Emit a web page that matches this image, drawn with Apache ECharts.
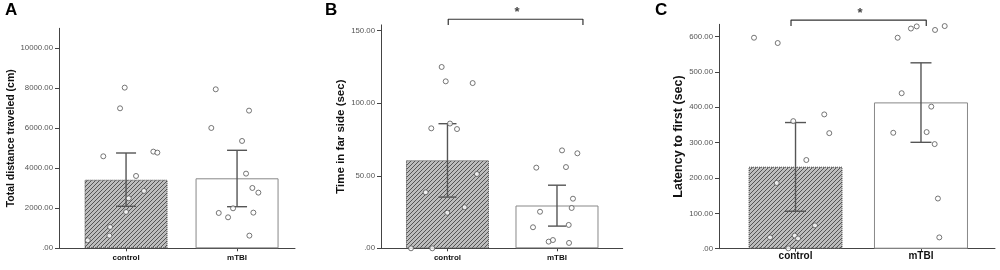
<!DOCTYPE html>
<html>
<head>
<meta charset="utf-8">
<script src="https://cdn.jsdelivr.net/npm/echarts@6/dist/echarts.min.js"></script>
<style>
  html, body { margin: 0; padding: 0; background: #fff; }
  #chart { width: 1000px; height: 270px; }
</style>
</head>
<body>
<div id="chart"></div>
<script>
const categories = ['control', 'mTBI'];

// A: total distance traveled (cm)
const meanA = [3430, 3500];
const errLowA = [2100, 2080];
const errHighA = [4765, 4900];
const ticksA = [0, 2000, 4000, 6000, 8000, 10000];
const controlA = [400, 633, 1067, 1817, 2500, 3617, 2867, 4600, 4833, 4783, 7000, 8033];
const controlJitterA = [-0.345, -0.150, -0.144, 0, 0.024, 0.090, 0.162, -0.205, 0.246, 0.282, -0.054, -0.012];
const mtbiA = [7950, 6017, 6883, 5367, 3733, 3017, 2783, 1767, 1550, 2000, 1783, 633];
const mtbiJitterA = [-0.192, -0.232, 0.108, 0.045, 0.081, 0.138, 0.192, -0.165, -0.081, -0.036, 0.147, 0.111];

// B: time in far side (sec)
const meanB = [60.7, 29.5];
const errLowB = [35.3, 15.3];
const errHighB = [85.9, 43.5];
const ticksB = [0, 50, 100, 150];
const controlB = [125, 115.1, 113.9, 86, 82.7, 82.2, 51.2, 38.6, 28.3, 24.5, 0, 0];
const controlJitterB = [-0.053, -0.016, 0.230, 0.023, -0.148, 0.087, 0.269, -0.199, 0.157, -0.002, -0.333, -0.139];
const mtbiB = [67.5, 65.5, 55.6, 56, 34.2, 27.8, 25.2, 16.1, 14.5, 4.6, 5.7, 3.7];
const mtbiJitterB = [0.046, 0.186, -0.189, 0.082, 0.146, 0.134, -0.155, 0.107, -0.219, -0.076, -0.037, 0.110];
const bracketBx = [1.007, 2.237];
const bracketBy = [157.9, 153.9];

// C: latency to first (sec)
const meanC = [232, 414];
const errLowC = [106, 301];
const errHighC = [357, 526];
const ticksC = [0, 100, 200, 300, 400, 500, 600];
const controlC = [597, 582, 361, 380, 327, 251, 186, 66, 32, 37, 29, 1];
const controlJitterC = [-0.331, -0.142, -0.018, 0.229, 0.269, 0.086, -0.150, 0.155, -0.203, -0.006, 0.020, -0.057];
const mtbiC = [597, 623, 629, 619, 630, 440, 402, 328, 330, 296, 142, 32];
const mtbiJitterC = [-0.186, -0.080, -0.034, 0.112, 0.189, -0.154, 0.082, -0.221, 0.045, 0.109, 0.135, 0.146];
const bracketCx = [0.964, 2.042];
const bracketCy = [647, 630];

const FONT = '"Liberation Sans", Arial, sans-serif';
const AXIS_COLOR = '#444';

// hatched fill for the control bars
const makeHatch = () => {
  const c = document.createElement('canvas');
  c.width = 4;
  c.height = 4;
  const ctx = c.getContext('2d');
  ctx.fillStyle = '#bdbdbd';
  ctx.fillRect(0, 0, 4, 4);
  ctx.strokeStyle = '#555';
  ctx.lineWidth = 1;
  ctx.beginPath();
  ctx.moveTo(0, 4); ctx.lineTo(4, 0);
  ctx.moveTo(-1, 1); ctx.lineTo(1, -1);
  ctx.moveTo(3, 5); ctx.lineTo(5, 3);
  ctx.stroke();
  return c;
};
const hatch = makeHatch();

const tickLabel = v => (v === 0 ? '.00' : v.toFixed(2));

const errorBarRender = capWidth => (params, api) => {
  const x = api.value(0);
  const lo = api.coord([x, api.value(1)]);
  const hi = api.coord([x, api.value(2)]);
  const half = capWidth / 2;
  const style = { stroke: '#555', lineWidth: 1.4 };
  return {
    type: 'group',
    children: [
      { type: 'line', shape: { x1: lo[0], y1: lo[1], x2: hi[0], y2: hi[1] }, style },
      { type: 'line', shape: { x1: lo[0] - half, y1: lo[1], x2: lo[0] + half, y2: lo[1] }, style },
      { type: 'line', shape: { x1: hi[0] - half, y1: hi[1], x2: hi[0] + half, y2: hi[1] }, style }
    ]
  };
};

const panels = [
  {
    grid: { left: 59, top: 28.3, width: 236, height: 220 },
    xMin: 0.396, xMax: 2.522, yMax: 11000, ticks: ticksA,
    name: 'Total distance traveled (cm)', nameSize: 10.5, nameGap: 41,
    catSize: 8, catMargin: 5, barWidth: 83, cap: 20,
    mean: meanA, lo: errLowA, hi: errHighA,
    pts: [[controlA, controlJitterA], [mtbiA, mtbiJitterA]]
  },
  {
    grid: { left: 381, top: 24.9, width: 241.7, height: 223.4 },
    xMin: 0.393, xMax: 2.6, yMax: 154, ticks: ticksB,
    name: 'Time in far side (sec)', nameSize: 11.5, nameGap: 25,
    catSize: 8, catMargin: 5, barWidth: 83, cap: 18,
    mean: meanB, lo: errLowB, hi: errHighB,
    pts: [[controlB, controlJitterB], [mtbiB, mtbiJitterB]],
    bracket: [bracketBx, bracketBy]
  },
  {
    grid: { left: 719, top: 24.3, width: 276, height: 224.4 },
    xMin: 0.39, xMax: 2.59, yMax: 635, ticks: ticksC,
    name: 'Latency to first (sec)', nameSize: 12.5, nameGap: 34,
    catSize: 10, catMargin: 3, barWidth: 94, cap: 21,
    mean: meanC, lo: errLowC, hi: errHighC,
    pts: [[controlC, controlJitterC], [mtbiC, mtbiJitterC]],
    bracket: [bracketCx, bracketCy]
  }
];

const grid = [];
const xAxis = [];
const yAxis = [];
const series = [];

panels.forEach((p, i) => {
  grid.push(p.grid);
  xAxis.push({
    type: 'value',
    gridIndex: i,
    min: p.xMin,
    max: p.xMax,
    axisLine: { lineStyle: { color: AXIS_COLOR, width: 1 } },
    axisTick: { customValues: [1, 2], length: 3, lineStyle: { color: AXIS_COLOR } },
    axisLabel: {
      customValues: [1, 2],
      formatter: v => categories[Math.round(v) - 1],
      fontFamily: FONT, fontSize: p.catSize, fontWeight: 'bold', color: '#111',
      margin: p.catMargin
    },
    splitLine: { show: false }
  });
  yAxis.push({
    type: 'value',
    gridIndex: i,
    min: 0,
    max: p.yMax,
    name: p.name,
    nameLocation: 'middle',
    nameGap: p.nameGap,
    nameTextStyle: { fontFamily: FONT, fontSize: p.nameSize, fontWeight: 'bold', color: '#111' },
    axisLine: { show: true, lineStyle: { color: AXIS_COLOR, width: 1 } },
    axisTick: { show: true, customValues: p.ticks, length: 4, lineStyle: { color: AXIS_COLOR } },
    axisLabel: {
      customValues: p.ticks,
      formatter: tickLabel,
      fontFamily: FONT, fontSize: 7.8, color: '#555', margin: 6
    },
    splitLine: { show: false }
  });

  series.push({
    type: 'bar',
    xAxisIndex: i,
    yAxisIndex: i,
    barWidth: p.barWidth,
    z: 2,
    data: [
      {
        value: [1, p.mean[0]],
        itemStyle: { color: { image: hatch, repeat: 'repeat' }, borderColor: '#444', borderWidth: 1, borderType: 'dotted' }
      },
      {
        value: [2, p.mean[1]],
        itemStyle: { color: '#fff', borderColor: '#888', borderWidth: 1 }
      }
    ]
  });

  series.push({
    type: 'custom',
    xAxisIndex: i,
    yAxisIndex: i,
    z: 3,
    renderItem: errorBarRender(p.cap),
    data: [[1, p.lo[0], p.hi[0]], [2, p.lo[1], p.hi[1]]]
  });

  const scatterData = [];
  p.pts.forEach(([vals, jit], g) => {
    vals.forEach((v, k) => scatterData.push([g + 1 + jit[k], v]));
  });
  series.push({
    type: 'scatter',
    xAxisIndex: i,
    yAxisIndex: i,
    z: 4,
    symbol: 'circle',
    symbolSize: 5,
    itemStyle: { color: '#fff', borderColor: '#555', borderWidth: 1 },
    data: scatterData
  });

  if (p.bracket) {
    const [bx, by] = p.bracket;
    series.push({
      type: 'line',
      xAxisIndex: i,
      yAxisIndex: i,
      clip: false,
      symbol: 'none',
      silent: true,
      z: 5,
      lineStyle: { color: '#333', width: 1.2 },
      data: [[bx[0], by[1]], [bx[0], by[0]], [bx[1], by[0]], [bx[1], by[1]]]
    });
  }
});

const letter = (t, x) => ({
  type: 'text', x, y: 2,
  style: { text: t, font: 'bold 17px ' + FONT, fill: '#000', verticalAlign: 'top' }
});
const star = (x, y) => ({
  type: 'text', x, y,
  style: { text: '*', font: 'bold 13px ' + FONT, fill: '#444', align: 'center', verticalAlign: 'middle' }
});

const chart = echarts.init(document.getElementById('chart'), null, { renderer: 'canvas' });
chart.setOption({
  animation: false,
  backgroundColor: '#fff',
  grid,
  xAxis,
  yAxis,
  series,
  graphic: [
    letter('A', 5), letter('B', 325), letter('C', 655),
    star(517, 12), star(860, 13)
  ]
});
</script>
</body>
</html>
